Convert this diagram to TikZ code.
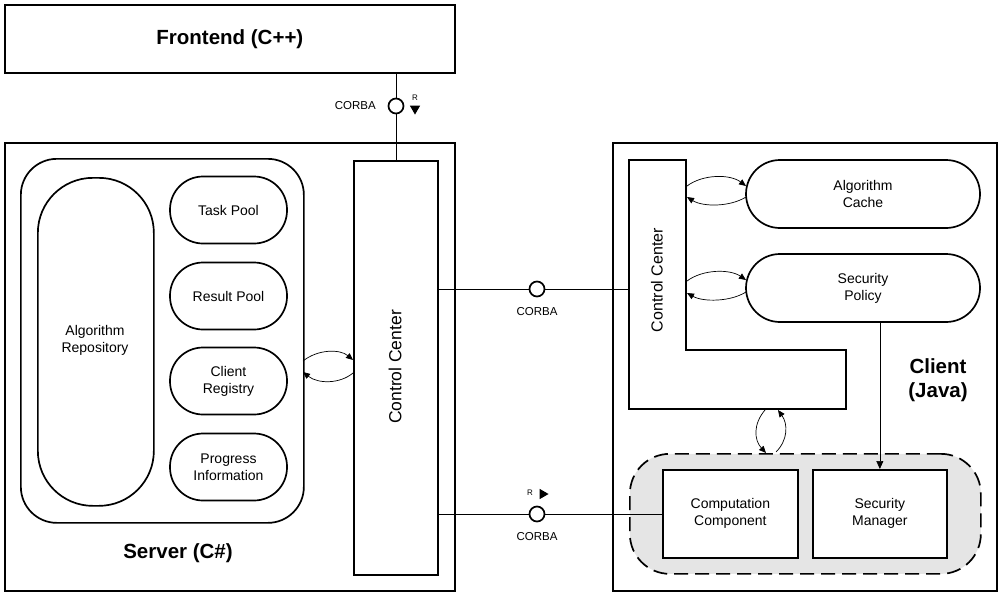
\documentclass[tikz,border=0pt]{standalone}
\usepackage{fontspec}
\setmainfont{Liberation Sans}
\usetikzlibrary{arrows.meta,shapes.geometric}
\begin{document}
\begin{tikzpicture}[x=1pt,y=-1pt,
  box/.style={draw, line width=1.7pt, inner sep=0pt, align=center, font=\fontsize{14}{17}\selectfont},
  pill/.style={box, rounded corners=33pt, minimum width=117pt, minimum height=67pt},
  conn/.style={line width=0.7pt},
  arc/.style={line width=0.7pt, -{Triangle[length=7pt,width=6pt]}},
  lbl/.style={font=\fontsize{11.5}{14}\selectfont, inner sep=0pt},
  tri/.style={fill=black, isosceles triangle, isosceles triangle apex angle=60, minimum size=0pt, inner sep=2.4pt},
  big/.style={font=\bfseries\fontsize{20.5}{24}\selectfont, align=center, inner sep=0pt}]
\useasboundingbox (0,0) rectangle (1000,595);
% Frontend
\node[box, minimum width=450pt, minimum height=68pt, anchor=north west, font=\bfseries\fontsize{20.5}{24}\selectfont] (fe) at (4,4) {Frontend (C++)};
% Server
\node[draw, line width=1.7pt, minimum width=450pt, minimum height=448pt, anchor=north west, inner sep=0pt] (srv) at (4,142) {};
\node[big] (srvl) at (178,553) {Server (C\#)};
\node[draw, line width=1.7pt, rounded corners=36pt, minimum width=283pt, minimum height=364pt, anchor=north west, inner sep=0pt] (inner) at (20,158) {};
\node[box, rounded corners=55pt, minimum width=116pt, minimum height=328pt, anchor=north west] (repo) at (37,177) {};
\node[font=\fontsize{14}{17}\selectfont, align=center] (repol) at (95,340) {Algorithm\\Repository};
\node[pill] (task) at (228.5,210) {Task Pool};
\node[pill] (result) at (228.5,296) {Result Pool};
\node[pill] (reg) at (228.5,381) {Client\\Registry};
\node[pill] (prog) at (228.5,467) {Progress\\Information};
\node[box, minimum width=84pt, minimum height=414pt, anchor=north west] (scc) at (353,160) {};
\node[rotate=90, font=\fontsize{17.5}{20}\selectfont] (sccl) at (395,367) {Control Center};
% Client
\node[draw, line width=1.7pt, minimum width=384pt, minimum height=448pt, anchor=north west, inner sep=0pt] (cli) at (612,142) {};
\node[big] (clil) at (938,380) {Client\\(Java)};
\draw[line width=1.7pt] (629,160) -- (686,160) -- (686,350) -- (846,350) -- (846,409) -- (629,409) -- cycle;
\coordinate (ccc) at (629,289);
\node[rotate=90, font=\fontsize{16}{19}\selectfont] (cccl) at (657,280) {Control Center};
\node[pill, rounded corners=34pt, minimum width=234pt, minimum height=68pt] (cache) at (863,194) {Algorithm\\Cache};
\node[pill, rounded corners=34pt, minimum width=234pt, minimum height=68pt] (pol) at (863,288) {Security\\Policy};
\node[draw, dashed, dash pattern=on 14pt off 7pt, line width=1.7pt, fill=black!10, rounded corners=40pt, minimum width=351pt, minimum height=120pt, anchor=north west, inner sep=0pt] (region) at (629,453) {};
\node[box, fill=white, minimum width=135pt, minimum height=88pt, anchor=north west] (comp) at (662,469) {Computation\\Component};
\node[box, fill=white, minimum width=134pt, minimum height=88pt, anchor=north west] (mgr) at (812,469) {Security\\Manager};
% Frontend - server CORBA
\node[draw, circle, line width=1.7pt, minimum size=15pt, inner sep=0pt] (c1) at (396,106) {};
\draw[conn] (fe.south -| c1) -- (c1);
\draw[conn] (c1) -- (scc.north -| c1);
\node[lbl, anchor=east] (c1l) at (376,106) {CORBA};
\node[font=\fontsize{8}{9}\selectfont, inner sep=0pt] (r1) at (415,98) {R};
\node[tri, shape border rotate=-90] (t1) at (415,108) {};
% middle CORBA
\node[draw, circle, line width=1.7pt, minimum size=15pt, inner sep=0pt] (c2) at (537,289) {};
\draw[conn] (scc.east |- c2) -- (c2) -- (ccc);
\node[lbl] (c2l) at (537,312) {CORBA};
% bottom CORBA
\node[draw, circle, line width=1.7pt, minimum size=15pt, inner sep=0pt] (c3) at (537,514) {};
\draw[conn] (scc.east |- c3) -- (c3) -- (comp.west |- c3);
\node[lbl] (c3l) at (537,537) {CORBA};
\node[font=\fontsize{8}{9}\selectfont, inner sep=0pt] (r3) at (530,493) {R};
\node[tri] (t3) at (542,494) {};
% policy -> manager
\draw[conn, -{Triangle[length=8pt,width=7pt]}] (pol.south -| mgr) -- (mgr.north);
% server arcs
\coordinate (sa1) at (303,361); \coordinate (sb1) at (353,360);
\coordinate (sa2) at (303,372); \coordinate (sb2) at (353,373);
\draw[arc] (sa1) .. controls (318,349) and (340,349) .. (sb1);
\draw[arc] (sb2) .. controls (340,384) and (318,384) .. (sa2);
% client arcs
\draw[arc] (687,186) .. controls (703,174) and (730,174) .. (746,186);
\draw[arc] (746,197) .. controls (730,207) and (703,207) .. (687,197);
\draw[arc] (687,281) .. controls (703,269) and (730,269) .. (746,280);
\draw[arc] (746,292) .. controls (730,302) and (703,302) .. (687,293);
% vertical arcs
\draw[arc] (765,410) .. controls (753,424) and (754,440) .. (766,453);
\draw[arc] (776,452) .. controls (788,440) and (788,424) .. (778,410);
\end{tikzpicture}
\end{document}
